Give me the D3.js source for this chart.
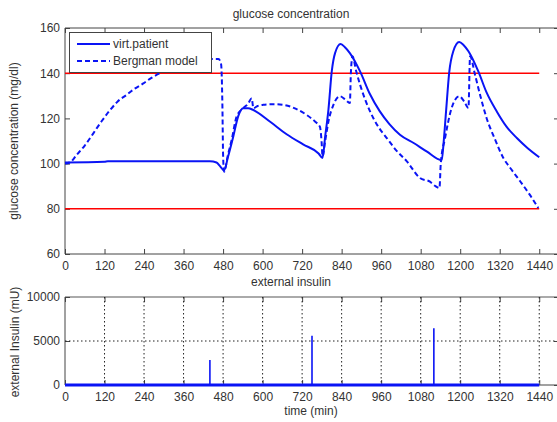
<!DOCTYPE html>
<html>
<head>
<meta charset="utf-8">
<script src="https://cdn.jsdelivr.net/npm/d3@7"></script>
<style>
  body { margin: 0; background: #fff; }
  svg text { font-family: "Liberation Sans", Arial, sans-serif; fill: #333; }
</style>
</head>
<body>
<div class="chart"></div>
<script>
// glucose, virtual patient (solid)
const patientT = [0, 120, 130, 440, 460, 470, 483, 495, 511, 526, 541, 556, 572, 623, 673, 723, 770, 782,
  790, 800, 810, 820, 837, 850, 865, 896, 925, 956, 985, 1017, 1060, 1098, 1144,
  1150, 1157, 1167, 1179, 1197, 1210, 1225, 1255, 1280, 1311, 1340, 1372, 1405, 1440];
const patientG = [100.5, 100.8, 101, 101, 100.5, 99, 97, 103, 112, 121, 124.5, 124.5, 123.7, 118.5, 113, 108.5, 104.5, 102.5,
  112, 124, 140.8, 148.9, 152.9, 151.5, 148.9, 140.8, 131, 123.1, 117.5, 112.8, 109, 105.4, 101.5,
  110, 123, 140.8, 149.7, 153.8, 152.5, 149.7, 140.8, 131.5, 123.1, 116.5, 111.3, 106.8, 102.8];

// glucose, Bergman model (dashed)
const bergmanT = [0, 15, 35, 60, 86, 110, 137, 160, 187, 210, 238, 260, 288, 320, 360, 400, 440, 466, 474, 478, 480, 483,
  495, 506, 521, 541, 556, 567, 572, 585, 602, 633, 663, 700, 734, 760, 774, 779, 782,
  790, 800, 815, 835, 850, 865, 868, 873, 884, 896, 915, 936, 955, 977, 1005, 1038, 1078, 1108, 1125, 1137,
  1141, 1154, 1174, 1197, 1212, 1225, 1230, 1245, 1262, 1280, 1305, 1331, 1355, 1382, 1410, 1437];
const bergmanG = [100, 100.5, 103.8, 108, 113.4, 118.5, 123.7, 127.5, 130.4, 133, 135.5, 137.7, 140, 142.3, 144.5, 145.8, 146.3, 146.3, 144, 125, 104, 96.4,
  104, 110.4, 120.8, 124.5, 126.5, 128.9, 124.5, 125.5, 126, 126.3, 126, 124.3, 121.5, 118.5, 116.3, 110, 103.2,
  110, 118.7, 126, 129.8, 128.5, 126.8, 140, 147.5, 141, 134.9, 127, 120.2, 115.5, 111.3, 106, 101, 93.6, 92, 90, 89.2,
  100, 111.3, 124.6, 129.8, 127.5, 124.6, 147.5, 139.3, 129.5, 120.2, 111, 102.5, 97.5, 92.2, 86.5, 80.4];

// glucose limits (red lines)
const limits = [80, 140];

// external insulin doses
const doseT = [440, 750, 1120];
const doseU = [2850, 5600, 6450];

const timeTicks = d3.range(0, 1441, 120);
const glucoseTicks = [60, 80, 100, 120, 140, 160];
const insulinTicks = [0, 5000, 10000];

const W = 557, H = 422;
const svg = d3.select(".chart").append("svg").attr("width", W).attr("height", H);

const x = d3.scaleLinear().domain([0, 1500]).range([65, 559]);
const yG = d3.scaleLinear().domain([60, 160]).range([254, 28]);
const yI = d3.scaleLinear().domain([0, 10000]).range([385, 297]);

const blue = "#0a14f5";
const axisColor = "#444";

function frame(y, yTicks, top, bottom, topColor, topWidth) {
  svg.append("line").attr("x1", 65).attr("x2", 565).attr("y1", top).attr("y2", top)
    .attr("stroke", topColor).attr("stroke-width", topWidth);
  svg.append("line").attr("x1", 65).attr("x2", 565).attr("y1", bottom).attr("y2", bottom).attr("stroke", axisColor);
  svg.append("line").attr("x1", 65).attr("x2", 65).attr("y1", top).attr("y2", bottom).attr("stroke", axisColor);
  svg.append("line").attr("x1", 559).attr("x2", 559).attr("y1", top).attr("y2", bottom).attr("stroke", axisColor);

  // ticks point inward on all four sides
  const xb = svg.append("g").attr("transform", `translate(0,${bottom})`)
    .call(d3.axisBottom(x).tickValues(timeTicks).tickSize(-5).tickPadding(7).tickFormat(d3.format("d")));
  const xt = svg.append("g").attr("transform", `translate(0,${top})`)
    .call(d3.axisTop(x).tickValues(timeTicks).tickSize(-5).tickFormat(""));
  const yl = svg.append("g").attr("transform", "translate(65,0)")
    .call(d3.axisLeft(y).tickValues(yTicks).tickSize(-5).tickPadding(5).tickFormat(d3.format("d")));
  const yr = svg.append("g").attr("transform", "translate(559,0)")
    .call(d3.axisRight(y).tickValues(yTicks).tickSize(-5).tickFormat(""));
  [xb, xt, yl, yr].forEach(g => {
    g.select(".domain").remove();
    g.selectAll(".tick line").attr("stroke", axisColor);
    g.selectAll(".tick text").attr("font-size", 12).attr("fill", "#333")
      .attr("font-family", "Liberation Sans, Arial, sans-serif");
  });
}

// ---- glucose plot ----
frame(yG, glucoseTicks, 28, 254, axisColor, 1);

svg.append("g").selectAll("line").data(limits).join("line")
  .attr("x1", x(0)).attr("x2", x(1440))
  .attr("y1", d => yG(d)).attr("y2", d => yG(d))
  .attr("stroke", "#ff0000").attr("stroke-width", 1.5);

const gLine = d3.line().x(d => x(d[0])).y(d => yG(d[1])).curve(d3.curveMonotoneX);
const patient = patientT.map((t, i) => [t, patientG[i]]);
const bergman = bergmanT.map((t, i) => [t, bergmanG[i]]);

svg.append("path").attr("d", gLine(bergman)).attr("fill", "none")
  .attr("stroke", blue).attr("stroke-width", 2).attr("stroke-dasharray", "5,3");
svg.append("path").attr("d", gLine(patient)).attr("fill", "none")
  .attr("stroke", blue).attr("stroke-width", 2);

// legend
const lg = svg.append("g");
lg.append("rect").attr("x", 69.5).attr("y", 32.5).attr("width", 142).attr("height", 40)
  .attr("fill", "#fff").attr("stroke", axisColor);
lg.append("line").attr("x1", 77).attr("x2", 110).attr("y1", 44).attr("y2", 44)
  .attr("stroke", blue).attr("stroke-width", 2);
lg.append("line").attr("x1", 77).attr("x2", 110).attr("y1", 61).attr("y2", 61)
  .attr("stroke", blue).attr("stroke-width", 2).attr("stroke-dasharray", "5,3");
lg.append("text").attr("x", 113).attr("y", 48).attr("font-size", 12).text("virt.patient");
lg.append("text").attr("x", 113).attr("y", 65).attr("font-size", 12).text("Bergman model");

svg.append("text").attr("x", 291).attr("y", 18).attr("text-anchor", "middle")
  .attr("font-size", 12).text("glucose concentration");
svg.append("text").attr("transform", "translate(18,141) rotate(-90)").attr("text-anchor", "middle")
  .attr("font-size", 12).text("glucose concentration (mg/dl)");

// ---- insulin plot ----
frame(yI, insulinTicks, 297, 385, "#aaa", 2);

// dotted grid
svg.append("g").selectAll("line").data(timeTicks.slice(1)).join("line")
  .attr("x1", d => x(d)).attr("x2", d => x(d)).attr("y1", 297).attr("y2", 385)
  .attr("stroke", "#222").attr("stroke-dasharray", "1.5,2.5");
svg.append("line").attr("x1", 65).attr("x2", 559).attr("y1", yI(5000)).attr("y2", yI(5000))
  .attr("stroke", "#222").attr("stroke-dasharray", "1.5,2.5");

svg.append("line").attr("x1", x(0)).attr("x2", x(1440)).attr("y1", yI(0)).attr("y2", yI(0))
  .attr("stroke", blue).attr("stroke-width", 3);
svg.append("g").selectAll("line").data(doseT).join("line")
  .attr("x1", d => x(d)).attr("x2", d => x(d))
  .attr("y1", yI(0)).attr("y2", (d, i) => yI(doseU[i]))
  .attr("stroke", blue).attr("stroke-width", 1.6);

svg.append("text").attr("x", 291).attr("y", 286).attr("text-anchor", "middle")
  .attr("font-size", 12).text("external insulin");
svg.append("text").attr("x", 311).attr("y", 415).attr("text-anchor", "middle")
  .attr("font-size", 12).text("time (min)");
svg.append("text").attr("transform", "translate(19,342) rotate(-90)").attr("text-anchor", "middle")
  .attr("font-size", 12).text("external Insulin (mU)");
</script>
</body>
</html>
